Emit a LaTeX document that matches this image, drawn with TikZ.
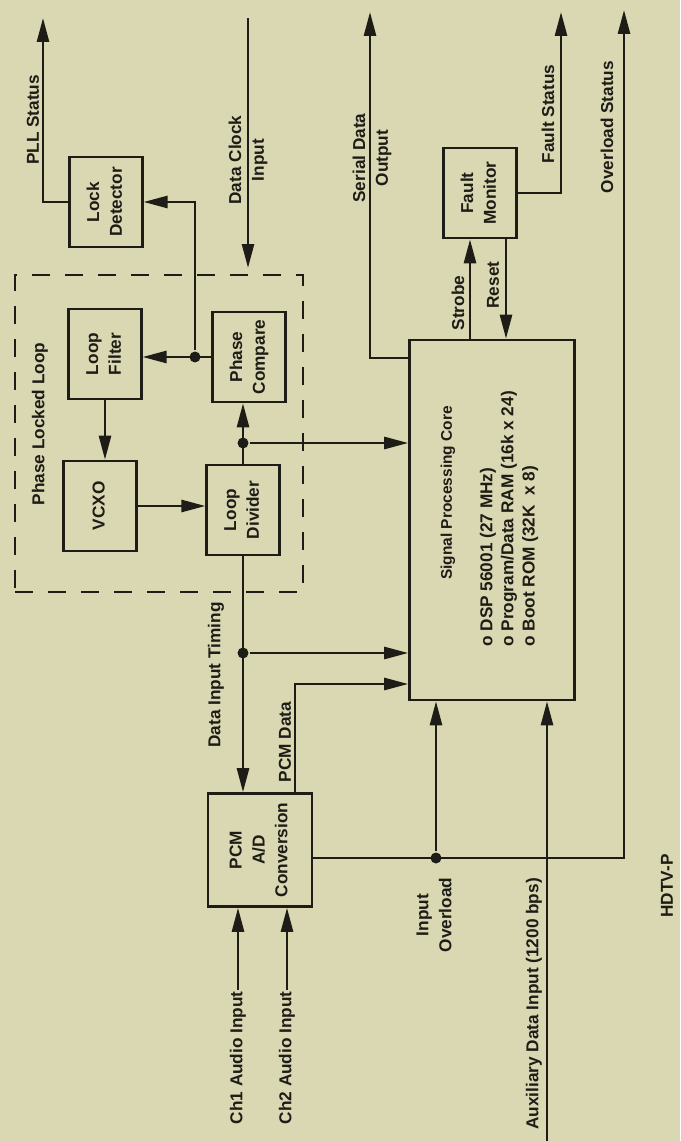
\documentclass[tikz,border=0pt]{standalone}
\usepackage{fontspec}
\setmainfont{Liberation Sans}
\usepackage{graphicx}
\usetikzlibrary{arrows.meta, positioning, calc}
\definecolor{paper}{RGB}{218,216,178}
\definecolor{ink}{RGB}{30,28,22}
\newcommand{\vtxt}[1]{\rotatebox{90}{\begin{tabular}{@{}c@{}}#1\end{tabular}}}

\begin{document}
\begin{tikzpicture}[
    x=0.02cm, y=-0.02cm,
    >={Triangle[length=0.48cm,width=0.24cm]},
    line width=1.5pt, color=ink,
    every node/.style={font=\fontsize{9.8}{13}\selectfont\bfseries, text=ink},
    blk/.style={draw, inner sep=0pt, minimum width=1.45cm, minimum height=1.8cm},
    vlbl/.style={rotate=90, align=center, inner sep=0pt},
    jdot/.style={circle, fill=ink, inner sep=0pt, minimum size=0.22cm}
]
    \fill[paper] (0,0) rectangle (680,1141);
    \useasboundingbox (0,0) rectangle (680,1141);

    % blocks
    \node[blk] (lockdet) at (106,202) {\vtxt{Lock\\Detector}};
    \node[blk] (faultmon) at (480,193) {\vtxt{Fault\\Monitor}};
    \node[blk] (loopfilt) at (105,354) {\vtxt{Loop\\Filter}};
    \node[blk] (phasecmp) at (249,357) {\vtxt{Phase\\Compare}};
    \node[blk] (vcxo) at (100,506) {\vtxt{VCXO}};
    \node[blk] (loopdiv) at (243,510) {\vtxt{Loop\\Divider}};
    \node[blk, minimum width=2.08cm, minimum height=2.26cm] (pcm) at (260,850) {\vtxt{PCM\\A/D\\Conversion}};
    \node[blk, minimum width=3.3cm, minimum height=7.2cm] (spc) at (492,520) {};
    \node[draw, dash pattern=on 0.36cm off 0.3cm, inner sep=0pt, minimum width=5.76cm, minimum height=6.34cm] (pll) at (159,433.5) {};

    \node[vlbl, font=\fontsize{8.8}{13}\selectfont\bfseries] (spctitle) at (448,493) {Signal Processing Core};
    \node[vlbl, anchor=west, align=left, font=\fontsize{9.8}{12}\selectfont\bfseries] (spclist) at (509,648)
        {o DSP 56001 (27 MHz)\\o Program/Data RAM (16k x 24)\\o Boot ROM (32K\ \ x 8)};

    % labels
    \node[vlbl] (pllstat) at (33,120) {PLL Status};
    \node[vlbl] (clklbl) at (248,160) {Data Clock\\Input};
    \node[vlbl] (serlbl) at (372,158) {Serial Data\\Output};
    \node[vlbl] (faultlbl) at (548,114) {Fault Status};
    \node[vlbl] (ovllbl) at (607,127) {Overload Status};
    \node[vlbl] (strblbl) at (458,303) {Strobe};
    \node[vlbl] (rstlbl) at (493,285) {Reset};
    \node[vlbl] (plllbl) at (40,424) {Phase Locked Loop};
    \node[vlbl] (timlbl) at (216,675) {Data Input Timing};
    \node[vlbl] (pcmdlbl) at (285,742) {PCM Data};
    \node[vlbl] (inovl) at (434,915) {Input\\Overload};
    \node[vlbl] (auxlbl) at (534,1004) {Auxiliary Data Input (1200 bps)};
    \node[vlbl, anchor=east] (ch1lbl) at (238,990) {Ch1 Audio Input};
    \node[vlbl, anchor=east] (ch2lbl) at (287,990) {Ch2 Audio Input};
    \node[vlbl] (hdtv) at (667,886) {HDTV-P};

    % line ends and bends
    \coordinate (pllout) at (43,18);
    \coordinate (clkin) at (248,18);
    \coordinate (clkend) at (248,268);
    \coordinate (serbend) at (370,358);
    \coordinate (serout) at (370,12);
    \coordinate (strobex) at (470,0);
    \coordinate (resetx) at (506,0);
    \coordinate (faultout) at (561,12);
    \coordinate (ovlout) at (624,10);
    \coordinate (ovlcorner) at (624,858);
    \coordinate (pcmbend) at (295,684);
    \coordinate (auxin) at (547,1141);

    \node[jdot] (pcdot) at (195,357) {};
    \node[jdot] (ldot) at (243,443) {};
    \node[jdot] (tdot) at (243,653) {};
    \node[jdot] (ovldot) at (436,858) {};

    % connectors
    \draw[->] (lockdet.west) -| (pllout);
    \draw[->] (phasecmp.west) -- (phasecmp.west -| loopfilt.east);
    \draw[->] (pcdot) |- (lockdet.east);
    \draw[->] (clkin) -- (clkend);
    \draw[->] (loopfilt.south) -- (loopfilt.south |- vcxo.north);
    \draw[->] (vcxo.east) -- (vcxo.east -| loopdiv.west);
    \draw[->] (loopdiv.north) -- (loopdiv.north |- phasecmp.south);
    \draw[->] (ldot) -- (ldot -| spc.west);
    \draw[->] (loopdiv.south) -- (loopdiv.south |- pcm.north);
    \draw[->] (tdot) -- (tdot -| spc.west);
    \draw[->] (pcmbend |- pcm.north) -- (pcmbend) -- (pcmbend -| spc.west);
    \draw[->] (pcm.east |- ovlcorner) -- (ovlcorner) -- (ovlout);
    \draw[->] (ovldot) -- (ovldot |- spc.south);
    \draw[->] (auxin) -- (auxin |- spc.south);
    \draw[->] (ch1lbl.east) -- (ch1lbl.east |- pcm.south);
    \draw[->] (ch2lbl.east) -- (ch2lbl.east |- pcm.south);
    \draw[->] (serbend -| spc.west) -- (serbend) -- (serout);
    \draw[->] (strobex |- spc.north) -- (strobex |- faultmon.south);
    \draw[->] (resetx |- faultmon.south) -- (resetx |- spc.north);
    \draw[->] (faultmon.east) -| (faultout);
\end{tikzpicture}
\end{document}
